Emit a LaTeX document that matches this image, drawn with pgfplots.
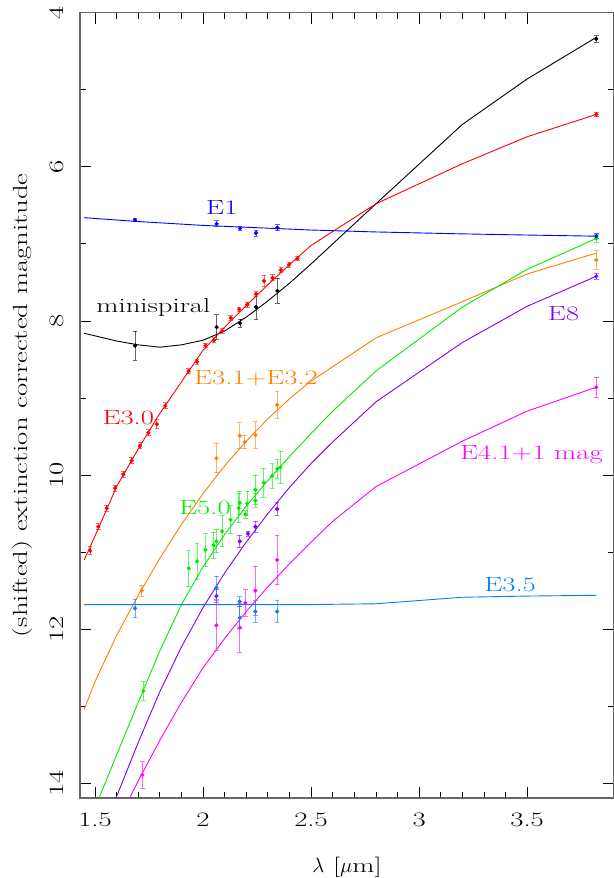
\documentclass[border=0pt]{standalone}
\usepackage{fontspec}
\setmainfont{Latin Modern Roman}[FakeStretch=1.4]
\usepackage{pgfplots}
\pgfplotsset{compat=1.18}
\definecolor{cblue}{RGB}{0,0,255}
\definecolor{cred}{RGB}{255,0,0}
\definecolor{corange}{RGB}{255,128,0}
\definecolor{cgreen}{RGB}{0,235,0}
\definecolor{cpurple}{RGB}{128,0,255}
\definecolor{cmag}{RGB}{255,0,255}
\definecolor{clblue}{RGB}{0,128,255}
\pgfplotsset{
  model/.style={no marks, line width=0.9pt},
  obs/.style={only marks, mark=*, mark size=1.9pt,
    error bars/y dir=both, error bars/y explicit,
    error bars/error bar style={line width=0.9pt, opacity=0.6},
    error bars/error mark options={rotate=90, mark size=2.3pt, line width=0.9pt}},
}
\begin{document}
\begin{tikzpicture}
\begin{axis}[name=ax, scale only axis, width=534pt, height=785pt,
  xmin=1.4306, xmax=3.903, ymin=4, ymax=14.19, y dir=reverse,
  xtick={1.5,2,2.5,3,3.5}, ytick={4,6,8,10,12,14},
  minor x tick num=4, minor y tick num=1,
  tick align=inside, major tick length=11pt, minor tick length=6pt,
  axis line style={black!60, line width=1.5pt},
  every tick/.style={black, line width=0.8pt},
  font=\fontsize{20.5}{24}\selectfont,
  /pgf/number format/assume math mode=true,
  yticklabel style={rotate=90, anchor=south, inner sep=0pt},
  yticklabel shift=16pt,
  xticklabel style={anchor=north, inner sep=0pt},
  xticklabel shift=15pt,
  xlabel={$\lambda$ [$\mu$m]},
  ylabel={(shifted) extinction corrected magnitude},
  xlabel style={at={(axis description cs:0.5,-0.0879)}, anchor=center},
  ylabel style={at={(axis description cs:-0.1086,0.5)}, anchor=center},
]
% model curves
\addplot[model, black] table {
1.45 8.16
1.6 8.26
1.7 8.31
1.8 8.34
1.9 8.31
2.0 8.25
2.1 8.13
2.2 7.95
2.3 7.74
2.4 7.51
2.5 7.26
2.8 6.48
3.2 5.45
3.5 4.86
3.82 4.32
};
\addplot[model, cred] table {
1.45 11.10
1.5 10.79
1.6 10.15
1.7 9.66
1.8 9.20
1.9 8.79
2.0 8.38
2.1 8.08
2.2 7.80
2.3 7.53
2.4 7.27
2.5 7.02
2.8 6.48
3.2 5.96
3.5 5.61
3.82 5.32
};
\addplot[model, corange] table {
1.45 13.04
1.5 12.68
1.6 12.08
1.7 11.56
1.8 11.08
1.9 10.64
2.0 10.24
2.1 9.88
2.2 9.56
2.3 9.27
2.4 9.01
2.5 8.78
2.8 8.22
3.2 7.75
3.5 7.39
3.82 7.12
};
\addplot[model, cgreen] table {
1.5 14.32
1.6 13.63
1.7 12.95
1.8 12.28
1.9 11.68
2.0 11.19
2.1 10.77
2.2 10.40
2.3 10.07
2.4 9.76
2.5 9.46
2.6 9.17
2.8 8.65
3.2 7.82
3.5 7.33
3.82 6.93
};
\addplot[model, cpurple] table {
1.5 14.86
1.6 14.17
1.7 13.47
1.8 12.81
1.9 12.23
2.0 11.72
2.1 11.27
2.2 10.87
2.3 10.50
2.4 10.16
2.5 9.85
2.6 9.57
2.8 9.05
3.2 8.28
3.5 7.81
3.82 7.42
};
\addplot[model, cmag] table {
1.6 14.53
1.7 13.97
1.8 13.44
1.9 12.95
2.0 12.50
2.1 12.12
2.2 11.77
2.3 11.45
2.4 11.15
2.5 10.87
2.6 10.60
2.8 10.15
3.2 9.56
3.5 9.17
3.82 8.86
};
\addplot[model, clblue] table {
1.45 11.68
2.0 11.68
2.5 11.68
2.8 11.67
3.2 11.585
3.5 11.57
3.82 11.56
};
\addplot[model, cblue] table {
1.45 6.66
1.7 6.71
2.0 6.76
2.5 6.82
2.8 6.845
3.2 6.87
3.5 6.885
3.82 6.90
};
% observations
\addplot[black, obs] table[x=x, y=y, y error=e] {
x y e
1.685 8.32 0.19
2.063 8.08 0.16
2.171 8.03 0.05
2.245 7.82 0.16
2.344 7.61 0.16
3.82 4.34 0.04
};
\addplot[cred, obs] table[x=x, y=y, y error=e] {
x y e
1.477 10.98 0.05
1.515 10.67 0.04
1.554 10.43 0.04
1.593 10.17 0.04
1.631 9.99 0.04
1.670 9.81 0.04
1.708 9.62 0.04
1.747 9.45 0.04
1.786 9.34 0.06
1.825 9.10 0.04
1.933 8.65 0.03
1.972 8.53 0.03
2.012 8.32 0.03
2.050 8.25 0.03
2.089 8.13 0.03
2.128 7.96 0.03
2.167 7.85 0.03
2.205 7.79 0.03
2.245 7.65 0.03
2.282 7.48 0.07
2.321 7.44 0.04
2.360 7.34 0.03
2.398 7.27 0.03
2.437 7.19 0.03
3.82 5.32 0.03
};
\addplot[corange, obs] table[x=x, y=y, y error=e] {
x y e
1.716 11.50 0.07
2.062 9.78 0.19
2.170 9.49 0.17
2.193 9.57 0.09
2.243 9.48 0.17
2.343 9.09 0.17
3.82 7.21 0.12
};
\addplot[cgreen, obs] table[x=x, y=y, y error=e] {
x y e
1.724 12.80 0.12
1.934 11.21 0.23
1.972 11.12 0.23
2.011 10.97 0.21
2.049 10.91 0.17
2.062 10.86 0.15
2.088 10.73 0.20
2.127 10.58 0.18
2.165 10.43 0.19
2.170 10.36 0.15
2.196 10.51 0.05
2.204 10.37 0.16
2.242 10.33 0.09
2.242 10.19 0.19
2.281 10.10 0.19
2.319 10.01 0.16
2.343 9.92 0.12
2.358 9.90 0.21
3.82 6.93 0.05
};
\addplot[cpurple, obs] table[x=x, y=y, y error=e] {
x y e
2.062 11.57 0.08
2.170 10.86 0.08
2.208 10.76 0.03
2.242 10.67 0.07
2.343 10.44 0.08
3.82 7.42 0.04
};
\addplot[cmag, obs] table[x=x, y=y, y error=e] {
x y e
1.719 13.89 0.17
2.062 11.95 0.32
2.170 11.98 0.32
2.196 11.66 0.17
2.242 11.50 0.32
2.343 11.10 0.32
3.82 8.86 0.13
};
\addplot[clblue, obs] table[x=x, y=y, y error=e] {
x y e
1.685 11.73 0.12
2.062 11.46 0.15
2.170 11.64 0.06
2.170 11.85 0.14
2.242 11.77 0.14
2.343 11.77 0.14
};
\addplot[cblue, obs] table[x=x, y=y, y error=e] {
x y e
1.685 6.69 0.02
2.063 6.74 0.04
2.171 6.80 0.02
2.245 6.86 0.04
2.344 6.79 0.04
3.82 6.90 0.03
};
% labels
\node[text=cblue] at (axis cs:2.087,6.53) {E1};
\node[text=black] at (axis cs:1.77,7.83) {minispiral};
\node[text=cred] at (axis cs:1.654,9.26) {E3.0};
\node[text=corange] at (axis cs:2.245,8.74) {E3.1+E3.2};
\node[text=cgreen] at (axis cs:2.009,10.42) {E5.0};
\node[text=cpurple] at (axis cs:3.668,7.91) {E8};
\node[text=cmag] at (axis cs:3.52,9.73) {E4.1+1 mag};
\node[text=clblue] at (axis cs:3.421,11.42) {E3.5};
\end{axis}
\pgfresetboundingbox
\path ([shift={(-80pt,-80pt)}]ax.south west) rectangle ([shift={(-1pt,12.7pt)}]ax.north east);
\end{tikzpicture}
\end{document}
